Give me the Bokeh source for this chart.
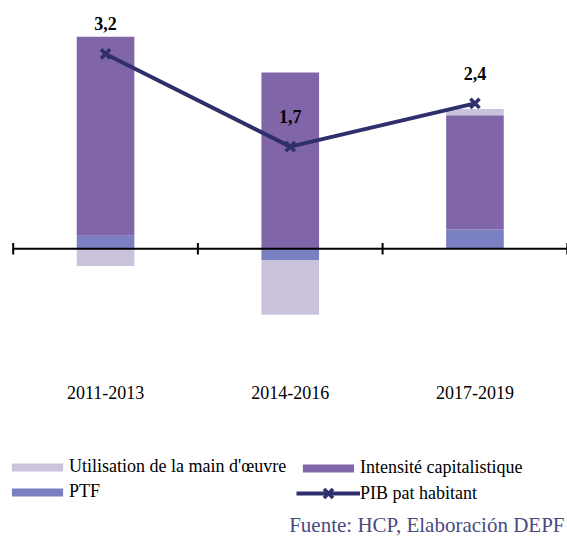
import numpy as np
from bokeh.plotting import figure
from bokeh.models import ColumnDataSource, Range1d, Legend, LegendItem
from bokeh.core.properties import value
from bokeh.embed import file_html
from bokeh.resources import INLINE

# ---- data ----
periods = ["2011-2013", "2014-2016", "2017-2019"]
ptf = [0.21, -0.19, 0.31]
intensite = [3.22, 2.85, 1.85]
utilisation = [-0.28, -0.88, 0.10]
pib = [3.2, 1.7, 2.4]
pib_labels = ["3,2", "1,7", "2,4"]
series_names = ["Utilisation de la main d'œuvre", "Intensité capitalistique", "PTF", "PIB pat habitant"]
source_text = "Fuente: HCP, Elaboración DEPF"

# ---- styling ----
C_UTIL = "#CBC3DC"
C_INT = "#8066A9"
C_PTF = "#7A80C2"
C_LINE = "#2F2F6E"
C_SRC = "#4B4A80"
FONT = "Liberation Serif"

W, H = 567, 538
PX_CAT = 184.7      # pixels per category
PX_UNIT = 61.8      # pixels per unit
x_start = -0.5 - 12.7 / PX_CAT
y_top = 248.2 / PX_UNIT
y_top_line = 251.2 / PX_UNIT

p = figure(width=W, height=H, output_backend="svg", toolbar_location=None,
           x_range=Range1d(x_start, x_start + W / PX_CAT),
           y_range=Range1d(y_top - H / PX_UNIT, y_top),
           x_axis_location=None, y_axis_location=None,
           min_border=0, outline_line_color=None)
p.extra_y_ranges = {"pib": Range1d(y_top_line - H / PX_UNIT, y_top_line)}
p.grid.visible = False
p.background_fill_color = "white"
p.border_fill_color = "white"

xs = np.arange(len(periods))

# stacked bars (positive up, negative down)
pos_base = np.zeros(len(periods))
neg_base = np.zeros(len(periods))
renderers = {}
for name, vals, col in [("ptf", ptf, C_PTF), ("int", intensite, C_INT), ("util", utilisation, C_UTIL)]:
    v = np.array(vals, dtype=float)
    bottom = np.where(v >= 0, pos_base, neg_base)
    top = bottom + v
    pos_base = np.where(v >= 0, top, pos_base)
    neg_base = np.where(v < 0, top, neg_base)
    src = ColumnDataSource(dict(x=xs, bottom=bottom, top=top))
    renderers[name] = p.vbar(x="x", bottom="bottom", top="top", width=0.312, source=src,
                             fill_color=col, line_color=None)

# horizontal axis line with category boundary ticks
bounds = np.arange(len(periods) + 1) - 0.5
p.segment(x0=[bounds[0]], y0=[0], x1=[bounds[-1]], y1=[0], line_color="black", line_width=2)
p.segment(x0=bounds, y0=[0.094] * len(bounds), x1=bounds, y1=[-0.094] * len(bounds),
          line_color="black", line_width=2)

# category labels
p.text(x=xs, y=[-143.3 / PX_UNIT] * len(periods), text=periods, text_align="center",
       text_baseline="middle", text_font=value(FONT), text_font_size="18px", text_color="black")

# PIB line
line_r = p.line(xs, pib, y_range_name="pib", line_color=C_LINE, line_width=4)
mark_r = p.scatter(xs, pib, y_range_name="pib", marker="x", size=13, line_color=C_LINE, line_width=3.5)
p.text(x=xs, y=pib, y_range_name="pib", text=pib_labels, text_align="center",
       text_baseline="middle", y_offset=-30, text_font=value(FONT), text_font_size="18px",
       text_font_style="bold", text_color="black")

common = dict(orientation="vertical", padding=0, margin=0, spacing=4, border_line_color=None,
              background_fill_alpha=0, glyph_width=64, glyph_height=10, label_height=20,
              label_standoff=0, label_text_font=FONT, label_text_font_size="18px",
              label_text_color="black")
leg1 = Legend(items=[LegendItem(label=series_names[0], renderers=[renderers["util"]]),
                     LegendItem(label=series_names[2], renderers=[renderers["ptf"]])],
              location=(5, 36), **common)
leg2 = Legend(items=[LegendItem(label=series_names[1], renderers=[renderers["int"]])],
              location=(296, 60), **common)
pib_opts = dict(common, glyph_height=32)
leg3 = Legend(items=[LegendItem(label=series_names[3], renderers=[line_r, mark_r])],
              location=(296, 29), **pib_opts)
for lg in (leg1, leg2, leg3):
    p.add_layout(lg)

# source note
p.text(x=[x_start + 564 / PX_CAT], y=[(248.2 - 524.0) / PX_UNIT], text=[source_text],
       text_align="right", text_baseline="middle", text_font=value(FONT),
       text_font_size="21px", text_color=C_SRC)

open("out.html", "w").write(file_html(p, INLINE))
